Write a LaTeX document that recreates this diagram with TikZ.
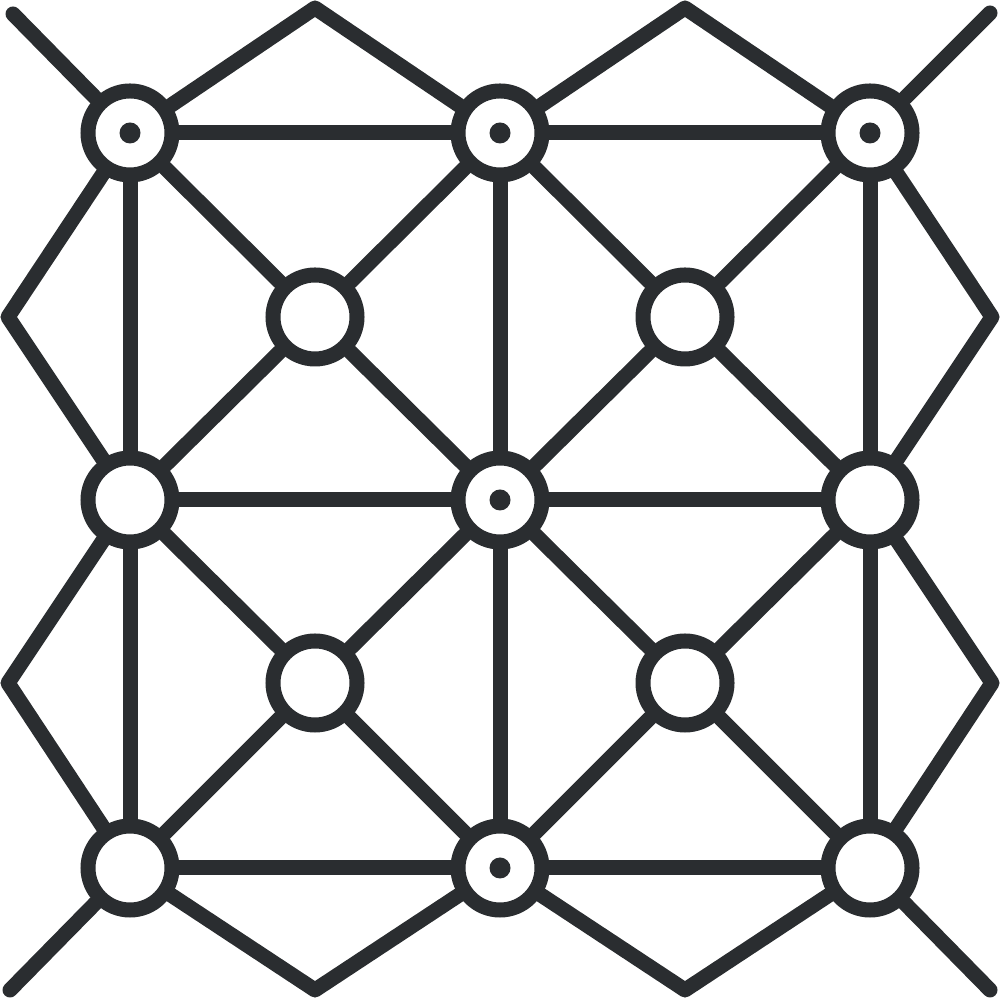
\documentclass[tikz,border=0pt]{standalone}
\definecolor{iconink}{RGB}{42,45,48}
\tikzset{
  web/.style={draw=iconink, line width=0.15cm, line cap=round, line join=round},
  joint/.style={circle, draw=iconink, fill=white, line width=0.15cm, minimum size=0.84cm, inner sep=0pt},
  hub/.style={joint, path picture={\fill[iconink] (path picture bounding box.center) circle (0.105cm);}}
}
\begin{document}
\begin{tikzpicture}
	  \useasboundingbox (0,0) rectangle (10,10);   % square frame

	  % outer grid joints
	  \node[hub]   (tl) at (1.30,8.67) {};
	  \node[hub]   (tm) at (5.00,8.67) {};
	  \node[hub]   (tr) at (8.70,8.67) {};
	  \node[joint] (ml) at (1.30,5.00) {};
	  \node[hub]   (c)  at (5.00,5.00) {};
	  \node[joint] (mr) at (8.70,5.00) {};
	  \node[joint] (bl) at (1.30,1.32) {};
	  \node[hub]   (bm) at (5.00,1.32) {};
	  \node[joint] (br) at (8.70,1.32) {};

	  % inner joints
	  \node[joint] (i1) at (3.15,6.83) {};
	  \node[joint] (i2) at (6.85,6.83) {};
	  \node[joint] (i3) at (3.15,3.17) {};
	  \node[joint] (i4) at (6.85,3.17) {};

	  % tips of the outer zigzag
	  \coordinate (ta) at (3.15,9.92);
	  \coordinate (tb) at (6.85,9.92);
	  \coordinate (ra) at (9.92,6.83);
	  \coordinate (rb) at (9.92,3.17);
	  \coordinate (ba) at (3.15,0.10);
	  \coordinate (bb) at (6.85,0.10);
	  \coordinate (la) at (0.08,6.83);
	  \coordinate (lb) at (0.08,3.17);

	  % free ends of the corner spurs
	  \coordinate (etl) at (0.13,9.86);
	  \coordinate (etr) at (9.90,9.87);
	  \coordinate (ebl) at (0.10,0.10);
	  \coordinate (ebr) at (9.90,0.10);

	  % rows and columns
	  \draw[web] (tl) -- (tm) -- (tr);
	  \draw[web] (ml) -- (c) -- (mr);
	  \draw[web] (bl) -- (bm) -- (br);
	  \draw[web] (tl) -- (ml) -- (bl);
	  \draw[web] (tm) -- (c) -- (bm);
	  \draw[web] (tr) -- (mr) -- (br);

	  % diagonals through the inner joints
	  \draw[web] (tl) -- (i1) -- (c) -- (i4) -- (br);
	  \draw[web] (tr) -- (i2) -- (c) -- (i3) -- (bl);
	  \draw[web] (tm) -- (i1) -- (ml) -- (i3) -- (bm) -- (i4) -- (mr) -- (i2) -- (tm);

	  % outer zigzag
	  \draw[web] (tl) -- (ta) -- (tm) -- (tb) -- (tr);
	  \draw[web] (tr) -- (ra) -- (mr) -- (rb) -- (br);
	  \draw[web] (br) -- (bb) -- (bm) -- (ba) -- (bl);
	  \draw[web] (bl) -- (lb) -- (ml) -- (la) -- (tl);

	  % corner spurs
	  \draw[web] (tl) -- (etl);
	  \draw[web] (tr) -- (etr);
	  \draw[web] (bl) -- (ebl);
	  \draw[web] (br) -- (ebr);
	\end{tikzpicture}
\end{document}
